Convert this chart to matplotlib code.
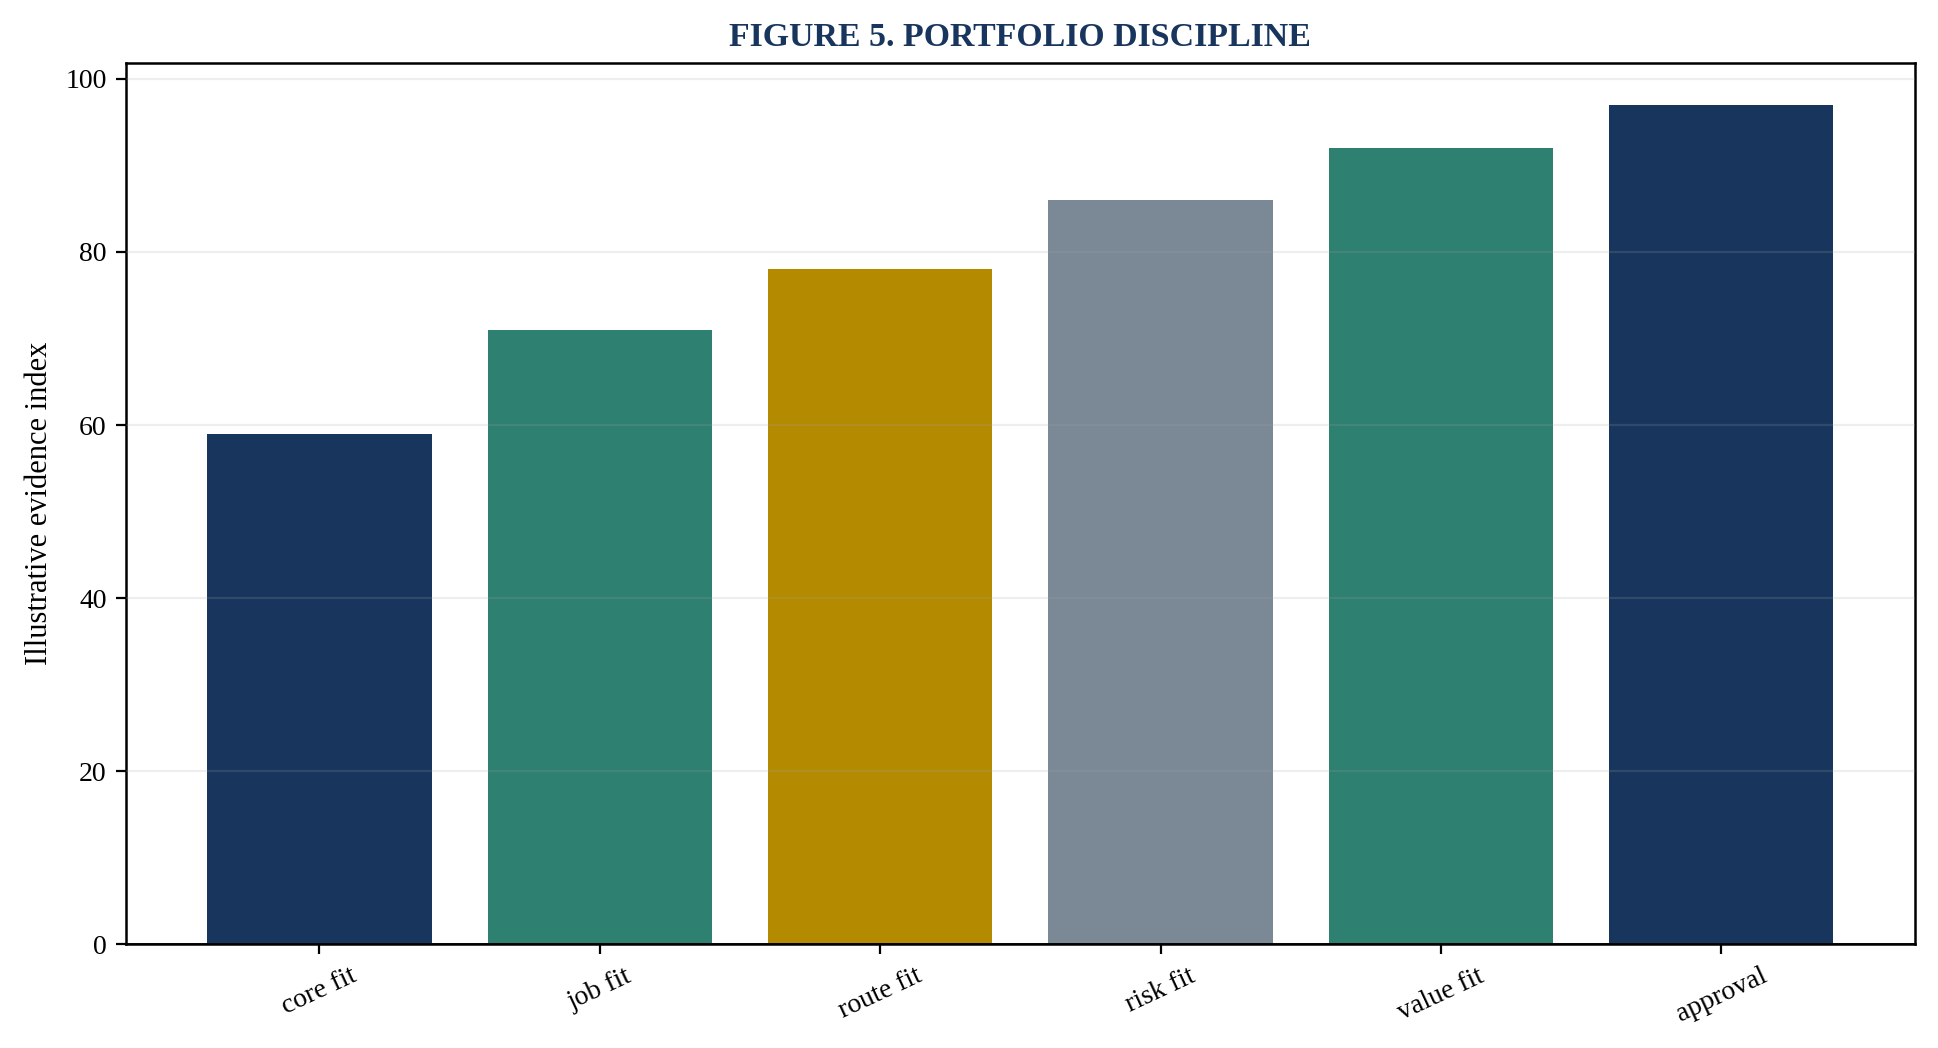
import matplotlib

matplotlib.use("Agg")

import matplotlib.pyplot as plt

categories = ["core fit", "job fit", "route fit", "risk fit", "value fit", "approval"]
values = [59, 71, 78, 86, 92, 97]
bar_colors = ["#18365d", "#2e8070", "#b38a00", "#7b8896", "#2e8070", "#18365d"]

plt.rcParams["font.family"] = ["Liberation Serif", "DejaVu Serif"]

fig, ax = plt.subplots(figsize=(9.69, 5.24), dpi=200)
fig.subplots_adjust(left=0.065, right=0.988, top=0.940, bottom=0.099)

x = range(len(categories))
ax.bar(x, values, width=0.8, color=bar_colors, zorder=1)
ax.set_ylim(bottom=0)
# light grid drawn over the bars, as in the source figure
ax.grid(axis="y", color="#a6a6a6", alpha=0.18, linewidth=0.8, zorder=2)
ax.set_axisbelow(False)
ax.axhline(0, color="black", linewidth=1.0, zorder=3)

ax.set_xticks(list(x))
ax.set_xticklabels(categories, rotation=25, fontsize=10)
ax.tick_params(axis="y", labelsize=10)
ax.set_ylabel("Illustrative evidence index", fontsize=11)
ax.set_title("FIGURE 5. PORTFOLIO DISCIPLINE", fontsize=12.2, fontweight="bold",
             color="#18365d", pad=6)

for spine in ax.spines.values():
    spine.set_linewidth(0.9)

fig.savefig("out.png", dpi=200)
